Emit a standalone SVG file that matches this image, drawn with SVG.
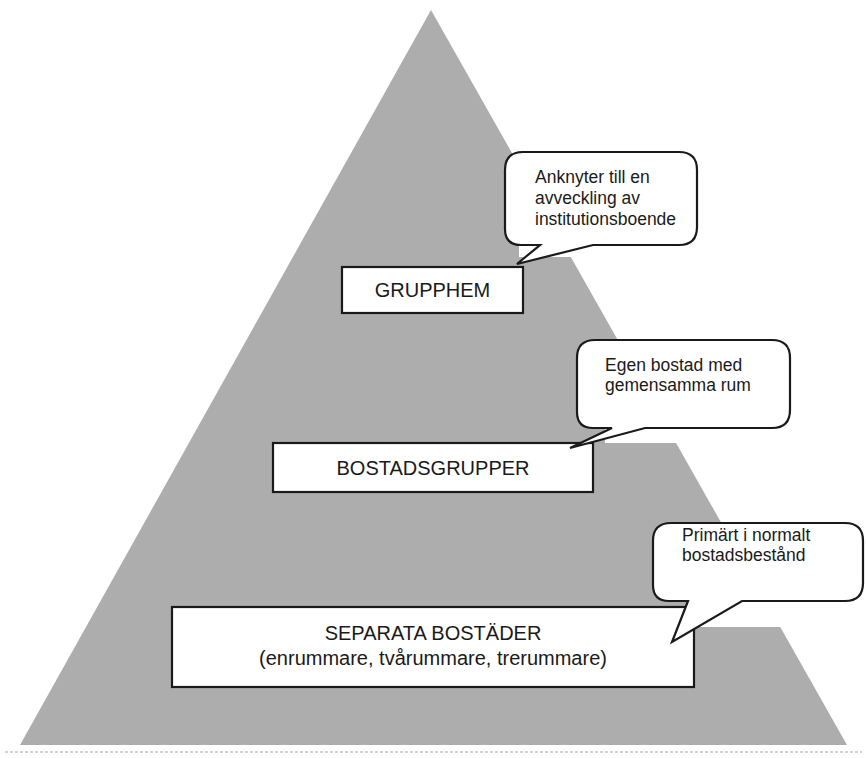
<svg xmlns="http://www.w3.org/2000/svg" width="866" height="758" viewBox="0 0 866 758">
<style>
.box{fill:#fff;stroke:#1a1a1a;stroke-width:2.2}
.call{fill:#fff;stroke:#1a1a1a;stroke-width:2.2;stroke-linejoin:miter}
.patch{fill:#fff;stroke:none}
.bt{font-family:"Liberation Sans",Arial,sans-serif;font-size:20px;fill:#1a1a1a;text-anchor:middle}
.ct{font-family:"Liberation Sans",Arial,sans-serif;font-size:17.5px;fill:#1a1a1a}
</style>
<rect width="866" height="758" fill="#fff"/>
<g id="pyramid">
<polygon points="431,10 20,745 847,745" fill="#adadad"/>
<line x1="5" y1="752" x2="862" y2="752" stroke="#d2d2d2" stroke-width="2" stroke-dasharray="3 2"/>
</g>
<g id="grupphem">
<rect class="box" x="342" y="267" width="181" height="46"/>
<text class="bt" x="432.5" y="297">GRUPPHEM</text>
</g>
<g id="bostadsgrupper">
<rect class="box" x="273" y="443" width="320" height="49"/>
<text class="bt" x="433" y="475">BOSTADSGRUPPER</text>
</g>
<g id="separata">
<rect class="box" x="172" y="607" width="522" height="80"/>
<text class="bt" x="433" y="640">SEPARATA BOSTÄDER</text>
<text class="bt" x="433" y="665">(enrummare, tvårummare, trerummare)</text>
</g>
<g id="patches">
<rect class="patch" x="519" y="152" width="182" height="105"/>
<rect class="patch" x="605" y="340" width="190" height="103"/>
<rect class="patch" x="690" y="523" width="176" height="104"/>
</g>
<g id="connectors">
<path class="call" d="M523,152 H679 Q697,152 697,170 V227 Q697,245 679,245 H593 L517,264 L540,245 H521 Q505,245 505,229 V170 Q505,152 523,152 Z"/>
<path class="call" d="M595,340 H772 Q790,340 790,358 V410 Q790,428 772,428 H645 L570,448 L612,428 H593 Q577,428 577,412 V358 Q577,340 595,340 Z"/>
<path class="call" d="M671,523 H845 Q863,523 863,541 V583 Q863,601 845,601 H742 L672,642 L688,601 H669 Q653,601 653,585 V541 Q653,523 671,523 Z"/>
</g>
<g id="callout1">
<text class="ct" x="535" y="183">Anknyter till en</text>
<text class="ct" x="535" y="204">avveckling av</text>
<text class="ct" x="535" y="225">institutionsboende</text>
</g>
<g id="callout2">
<text class="ct" x="605" y="371">Egen bostad med</text>
<text class="ct" x="605" y="391">gemensamma rum</text>
</g>
<g id="callout3">
<text class="ct" x="682" y="541" font-size="16.2">Primärt i normalt</text>
<text class="ct" x="682" y="561" font-size="16.2">bostadsbestånd</text>
</g>
</svg>
